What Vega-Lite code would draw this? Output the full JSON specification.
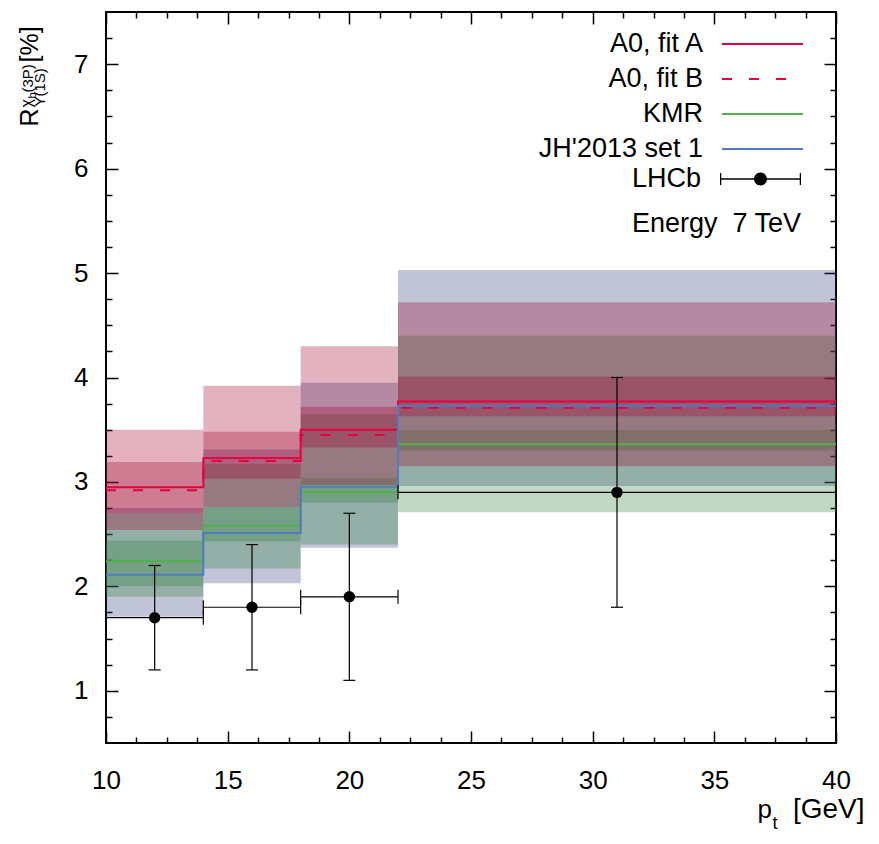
{
  "$schema": "https://vega.github.io/schema/vega-lite/v6.json",
  "width": 730,
  "height": 731,
  "autosize": {"type": "none"},
  "padding": {"left": 106, "top": 12, "right": 43, "bottom": 101},
  "background": "white",
  "config": {
    "view": {"stroke": "black", "strokeWidth": 2},
    "font": "Liberation Sans",
    "axis": {
      "grid": false,
      "domain": false,
      "labelFont": "Liberation Sans",
      "labelFontSize": 26,
      "labelColor": "black",
      "titleFont": "Liberation Sans",
      "titleFontWeight": "normal",
      "titleColor": "black",
      "tickColor": "black",
      "tickWidth": 1.5
    },
    "legend": {
      "labelFont": "Liberation Sans",
      "labelFontSize": 27,
      "labelColor": "black",
      "titleFont": "Liberation Sans",
      "titleFontSize": 27,
      "titleFontWeight": "normal",
      "titleColor": "black"
    }
  },
  "datasets": {
    "bands": [
      {"model": "JH", "x0": 10, "x1": 14, "lo": 1.71, "hi": 2.75},
      {"model": "JH", "x0": 14, "x1": 18, "lo": 2.03, "hi": 3.31},
      {"model": "JH", "x0": 18, "x1": 22, "lo": 2.37, "hi": 3.95},
      {"model": "JH", "x0": 22, "x1": 40, "lo": 2.96, "hi": 5.03},
      {"model": "KMR", "x0": 10, "x1": 14, "lo": 1.90, "hi": 2.70},
      {"model": "KMR", "x0": 10, "x1": 14, "lo": 2.00, "hi": 2.44},
      {"model": "KMR", "x0": 14, "x1": 18, "lo": 2.17, "hi": 3.17},
      {"model": "KMR", "x0": 14, "x1": 18, "lo": 2.43, "hi": 2.76},
      {"model": "KMR", "x0": 18, "x1": 22, "lo": 2.40, "hi": 3.65},
      {"model": "KMR", "x0": 18, "x1": 22, "lo": 2.80, "hi": 3.04},
      {"model": "KMR", "x0": 22, "x1": 40, "lo": 2.71, "hi": 4.40},
      {"model": "KMR", "x0": 22, "x1": 40, "lo": 3.30, "hi": 3.50},
      {"model": "A0", "x0": 10, "x1": 14, "lo": 2.54, "hi": 3.50},
      {"model": "A0", "x0": 10, "x1": 14, "lo": 2.70, "hi": 3.19},
      {"model": "A0", "x0": 14, "x1": 18, "lo": 2.76, "hi": 3.92},
      {"model": "A0", "x0": 14, "x1": 18, "lo": 3.03, "hi": 3.48},
      {"model": "A0", "x0": 18, "x1": 22, "lo": 2.97, "hi": 4.30},
      {"model": "A0", "x0": 18, "x1": 22, "lo": 3.33, "hi": 3.72},
      {"model": "A0", "x0": 22, "x1": 40, "lo": 3.15, "hi": 4.72},
      {"model": "A0", "x0": 22, "x1": 40, "lo": 3.63, "hi": 4.01}
    ],
    "lines": [
      {"series": "A0, fit A", "x": 10, "y": 2.95},
      {"series": "A0, fit A", "x": 14, "y": 3.23},
      {"series": "A0, fit A", "x": 18, "y": 3.50},
      {"series": "A0, fit A", "x": 22, "y": 3.77},
      {"series": "A0, fit A", "x": 40, "y": 3.77},
      {"series": "A0, fit B", "x": 10, "y": 2.92},
      {"series": "A0, fit B", "x": 14, "y": 3.20},
      {"series": "A0, fit B", "x": 18, "y": 3.45},
      {"series": "A0, fit B", "x": 22, "y": 3.71},
      {"series": "A0, fit B", "x": 40, "y": 3.71},
      {"series": "KMR", "x": 10, "y": 2.24},
      {"series": "KMR", "x": 14, "y": 2.58},
      {"series": "KMR", "x": 18, "y": 2.90},
      {"series": "KMR", "x": 22, "y": 3.36},
      {"series": "KMR", "x": 40, "y": 3.36},
      {"series": "JH'2013 set 1", "x": 10, "y": 2.11},
      {"series": "JH'2013 set 1", "x": 14, "y": 2.51},
      {"series": "JH'2013 set 1", "x": 18, "y": 2.955},
      {"series": "JH'2013 set 1", "x": 22, "y": 3.73},
      {"series": "JH'2013 set 1", "x": 40, "y": 3.73}
    ],
    "lhcb": [
      {"x": 12, "xlo": 10, "xhi": 14, "y": 1.7, "ylo": 1.2, "yhi": 2.2},
      {"x": 16, "xlo": 14, "xhi": 18, "y": 1.8, "ylo": 1.2, "yhi": 2.4},
      {"x": 20, "xlo": 18, "xhi": 22, "y": 1.9, "ylo": 1.1, "yhi": 2.7},
      {"x": 31, "xlo": 22, "xhi": 40, "y": 2.9, "ylo": 1.8, "yhi": 4.0}
    ]
  },
  "resolve": {
    "axis": {"x": "independent", "y": "independent"},
    "scale": {"color": "independent"}
  },
  "layer": [
    {
      "data": {"name": "bands"},
      "mark": {"type": "rect", "fillOpacity": 0.3, "strokeWidth": 0},
      "encoding": {
        "x": {
          "field": "x0", "type": "quantitative",
          "scale": {"domain": [10, 40], "nice": false, "zero": false},
          "axis": {
            "orient": "bottom", "values": [10, 15, 20, 25, 30, 35, 40], "format": "d",
            "tickSize": -12, "labelPadding": 36, "labelOverlap": false, "labelFlush": false,
            "title": "[GeV]", "titleFontSize": 28, "titleX": 758, "titleY": 74,
            "titleAlign": "right", "titleBaseline": "alphabetic"
          }
        },
        "x2": {"field": "x1"},
        "y": {
          "field": "lo", "type": "quantitative",
          "scale": {"domain": [0.5, 7.5], "nice": false, "zero": false},
          "axis": {
            "orient": "left", "values": [1, 2, 3, 4, 5, 6, 7], "format": "d",
            "tickSize": -12, "labelPadding": 30, "labelOverlap": false, "labelFlush": false,
            "title": "R", "titleFontSize": 25, "titleX": -68.5, "titleY": 114,
            "titleAngle": 270, "titleAlign": "left", "titleBaseline": "alphabetic"
          }
        },
        "y2": {"field": "hi"},
        "fill": {
          "field": "model", "type": "nominal",
          "scale": {"domain": ["JH", "KMR", "A0"], "range": ["#2d3a76", "#2d7d3a", "#a0002a"]},
          "legend": null
        }
      }
    },
    {
      "data": {"name": "lines"},
      "mark": {"type": "line", "interpolate": "step-after", "strokeWidth": 2},
      "encoding": {
        "x": {
          "field": "x", "type": "quantitative",
          "axis": {"orient": "top", "values": [10, 15, 20, 25, 30, 35, 40], "tickSize": -12, "labels": false, "title": null}
        },
        "y": {
          "field": "y", "type": "quantitative",
          "axis": {"orient": "right", "values": [1, 2, 3, 4, 5, 6, 7], "tickSize": -12, "labels": false, "title": null}
        },
        "color": {
          "field": "series", "type": "nominal",
          "scale": {
            "domain": ["A0, fit A", "A0, fit B", "KMR", "JH'2013 set 1"],
            "range": ["#e6003c", "#e6003c", "#50b04c", "#4f7ac4"]
          },
          "legend": {
            "orient": "none", "legendX": 643, "legendY": 18.5, "padding": 0, "title": null,
            "symbolType": "M-3.24,0H3.24", "symbolSize": 625, "symbolStrokeWidth": 2, "symbolOffset": 0,
            "symbolDash": {"expr": "datum.value === 'A0, fit B' ? [10, 17] : [1, 0]"},
            "rowPadding": 7,
            "labelAlign": "right", "labelBaseline": "middle", "labelOffset": -73, "labelLimit": 400
          }
        },
        "strokeDash": {
          "field": "series", "type": "nominal",
          "scale": {
            "domain": ["A0, fit A", "A0, fit B", "KMR", "JH'2013 set 1"],
            "range": [[1, 0], [10, 17], [1, 0], [1, 0]]
          },
          "legend": null
        }
      }
    },
    {
      "data": {"name": "lhcb"},
      "mark": {"type": "rule", "color": "black", "strokeWidth": 1.2},
      "encoding": {
        "x": {
          "field": "x", "type": "quantitative",
          "axis": {
            "orient": "bottom",
            "values": [11.25, 12.5, 13.75, 16.25, 17.5, 18.75, 21.25, 22.5, 23.75, 26.25, 27.5, 28.75, 31.25, 32.5, 33.75, 36.25, 37.5, 38.75],
            "tickSize": -6, "labels": false,
            "title": "p", "titleFontSize": 26, "titleX": 651, "titleY": 74, "titleAlign": "left", "titleBaseline": "alphabetic"
          }
        },
        "y": {
          "field": "ylo", "type": "quantitative",
          "axis": {
            "orient": "left",
            "values": [0.75, 1.25, 1.5, 1.75, 2.25, 2.5, 2.75, 3.25, 3.5, 3.75, 4.25, 4.5, 4.75, 5.25, 5.5, 5.75, 6.25, 6.5, 6.75, 7.25],
            "tickSize": -6, "labels": false,
            "title": "χ", "titleFontSize": 16, "titleX": -75, "titleY": 95, "titleAngle": 270, "titleAlign": "left", "titleBaseline": "alphabetic"
          }
        },
        "y2": {"field": "yhi"}
      }
    },
    {
      "data": {"name": "lhcb"},
      "mark": {"type": "rule", "color": "black", "strokeWidth": 1.2},
      "encoding": {
        "x": {
          "field": "xlo", "type": "quantitative",
          "axis": {
            "orient": "top",
            "values": [11.25, 12.5, 13.75, 16.25, 17.5, 18.75, 21.25, 22.5, 23.75, 26.25, 27.5, 28.75, 31.25, 32.5, 33.75, 36.25, 37.5, 38.75],
            "tickSize": -6, "labels": false, "title": null
          }
        },
        "x2": {"field": "xhi"},
        "y": {
          "field": "y", "type": "quantitative",
          "axis": {
            "orient": "right",
            "values": [0.75, 1.25, 1.5, 1.75, 2.25, 2.5, 2.75, 3.25, 3.5, 3.75, 4.25, 4.5, 4.75, 5.25, 5.5, 5.75, 6.25, 6.5, 6.75, 7.25],
            "tickSize": -6, "labels": false,
            "title": "[%]", "titleFontSize": 25, "titleX": -798.5, "titleY": 50, "titleAngle": 270, "titleAlign": "left", "titleBaseline": "alphabetic"
          }
        }
      }
    },
    {
      "data": {"name": "lhcb"},
      "transform": [{"fold": ["ylo", "yhi"], "as": ["end", "val"]}],
      "mark": {"type": "tick", "orient": "horizontal", "color": "black", "opacity": 1, "size": 12, "thickness": 1.2},
      "encoding": {
        "x": {
          "field": "x", "type": "quantitative",
          "axis": {"orient": "bottom", "labels": false, "ticks": false, "title": "t", "titleFontSize": 18, "titleX": 666, "titleY": 85, "titleAlign": "left", "titleBaseline": "alphabetic"}
        },
        "y": {
          "field": "val", "type": "quantitative",
          "axis": {"orient": "left", "labels": false, "ticks": false, "title": "b", "titleFontSize": 11, "titleX": -71, "titleY": 86, "titleAngle": 270, "titleAlign": "left", "titleBaseline": "alphabetic"}
        }
      }
    },
    {
      "data": {"name": "lhcb"},
      "transform": [{"fold": ["xlo", "xhi"], "as": ["end", "val"]}],
      "mark": {"type": "tick", "orient": "vertical", "color": "black", "opacity": 1, "size": 14, "thickness": 1.2},
      "encoding": {
        "x": {"field": "val", "type": "quantitative", "axis": null},
        "y": {
          "field": "y", "type": "quantitative",
          "axis": {"orient": "left", "labels": false, "ticks": false, "title": "(3P)", "titleFontSize": 15, "titleX": -74, "titleY": 80, "titleAngle": 270, "titleAlign": "left", "titleBaseline": "alphabetic"}
        }
      }
    },
    {
      "data": {"name": "lhcb"},
      "mark": {"type": "point", "filled": true, "opacity": 1, "size": 130, "strokeWidth": 0},
      "encoding": {
        "x": {"field": "x", "type": "quantitative", "axis": null},
        "y": {
          "field": "y", "type": "quantitative",
          "axis": {"orient": "left", "labels": false, "ticks": false, "title": "Υ(1S)", "titleFontSize": 15, "titleX": -62, "titleY": 94, "titleAngle": 270, "titleAlign": "left", "titleBaseline": "alphabetic"}
        },
        "color": {
          "datum": "LHCb", "type": "nominal",
          "scale": {"domain": ["LHCb"], "range": ["black"]},
          "legend": {
            "orient": "none", "legendX": 525, "legendY": 153.5, "padding": 0,
            "title": "Energy\u00a0\u00a07 TeV\u00a0", "titleOrient": "bottom", "titleAnchor": "end", "titlePadding": 18,
            "symbolType": "M-3.24,-0.052H3.24V0.052H-3.24Z M-3.24,-0.486H-3.14V0.486H-3.24Z M3.14,-0.486H3.24V0.486H3.14Z M0.52,0A0.52,0.52,0,1,1,-0.52,0A0.52,0.52,0,1,1,0.52,0Z",
            "symbolSize": 625, "symbolStrokeWidth": 2, "symbolOffset": 0, "symbolOpacity": 1,
            "labelAlign": "right", "labelBaseline": "middle", "labelOffset": -73, "labelLimit": 400
          }
        }
      }
    }
  ]
}
